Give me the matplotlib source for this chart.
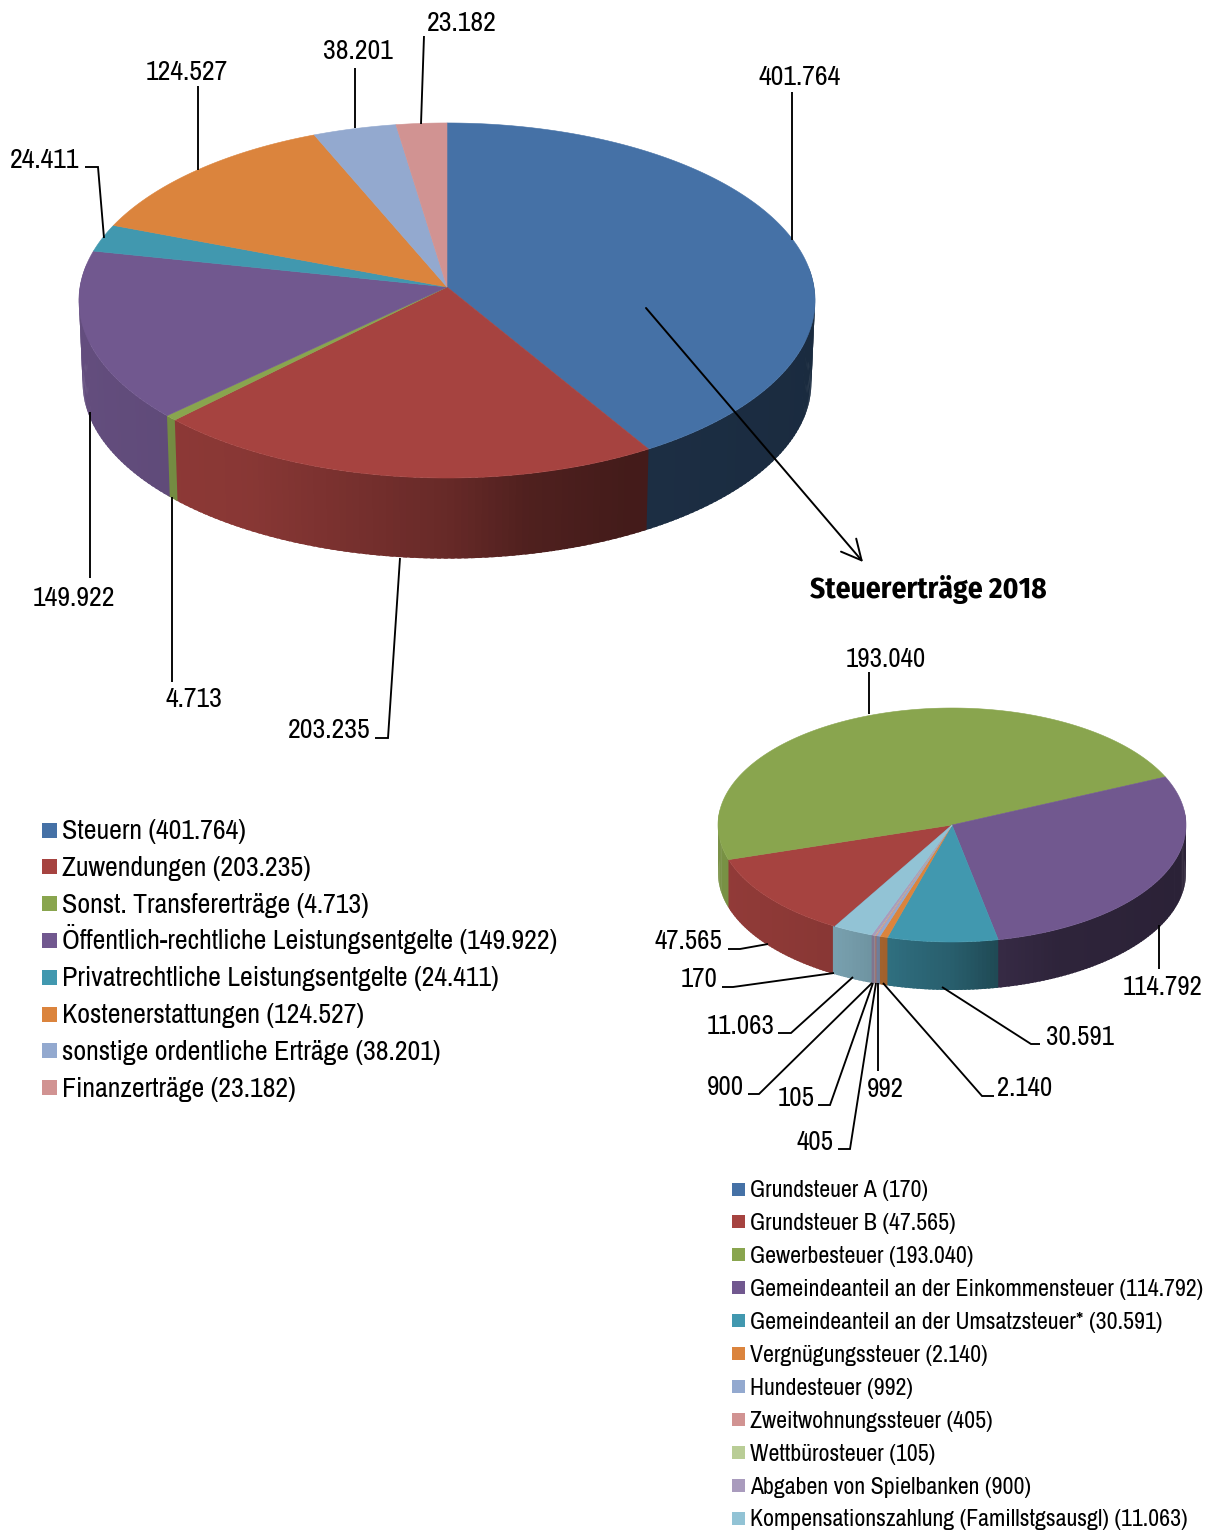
import matplotlib
matplotlib.use('Agg')
import matplotlib.pyplot as plt
from matplotlib.patches import Rectangle
import numpy as np

plt.rcParams['font.family'] = ['Archivo Narrow', 'Liberation Sans', 'DejaVu Sans']

# main chart
names1 = ['Steuern', 'Zuwendungen', 'Sonst. Transfererträge',
          'Öffentlich-rechtliche Leistungsentgelte', 'Privatrechtliche Leistungsentgelte',
          'Kostenerstattungen', 'sonstige ordentliche Erträge', 'Finanzerträge']
values1 = [401764, 203235, 4713, 149922, 24411, 124527, 38201, 23182]
colors1 = ['#4571A6', '#A64340', '#89A54E', '#71588F', '#4198AF', '#DB843D', '#93A9CF', '#D19392']

# Steuererträge
names2 = ['Grundsteuer A', 'Grundsteuer B', 'Gewerbesteuer',
          'Gemeindeanteil an der Einkommensteuer', 'Gemeindeanteil an der Umsatzsteuer*',
          'Vergnügungssteuer', 'Hundesteuer', 'Zweitwohnungssteuer', 'Wettbürosteuer',
          'Abgaben von Spielbanken', 'Kompensationszahlung (Famillstgsausgl)']
values2 = [170, 47565, 193040, 114792, 30591, 2140, 992, 405, 105, 900, 11063]
colors2 = ['#4571A6', '#A64340', '#89A54E', '#71588F', '#4198AF', '#DB843D', '#93A9CF',
           '#D19392', '#B9CD96', '#A99BBD', '#92C3D5']


def fmt(v):
    return f'{v:,}'.replace(',', '.')


def project(t, cx, cy, rx, ry, k):
    u, v = np.sin(t), -np.cos(t)
    w = 1 - k * v
    return cx + rx * u / w, cy + ry * v / w


def shade(col, t):
    # side walls get darker from left to right
    f = np.interp(np.sin(t), [-1, -0.5, -0.25, 0, 0.2, 0.45, 1],
                  [0.88, 0.82, 0.72, 0.62, 0.48, 0.41, 0.38])
    return tuple(np.array(matplotlib.colors.to_rgb(col)) * f)


def pie3d(ax, values, colors, start, cx, cy, rx, ry, k, depth, bottom_scale):
    total = sum(values)
    edges = np.radians(start + np.cumsum([0] + list(values)) / total * 360)
    for i in range(len(values)):
        ts = np.linspace(edges[i], edges[i + 1], max(3, int(np.degrees(edges[i + 1] - edges[i])) + 2))
        step = ts[1] - ts[0]
        for a in ts[:-1]:
            if np.cos(a + step / 2) > 0.12:
                continue
            # strips overlap a little so no seams show
            x0, y0 = project(np.array([a, a + step * 1.6]), cx, cy, rx, ry, k)
            x1 = cx + (x0 - cx) * bottom_scale
            y1 = cy + (y0 - cy) * bottom_scale + depth
            ax.fill([x0[0], x0[1], x1[1], x1[0]], [y0[0], y0[1], y1[1], y1[0]],
                    color=shade(colors[i], a + step / 2), lw=0, zorder=2)
    for i in range(len(values)):
        ts = np.linspace(edges[i], edges[i + 1], max(3, int(np.degrees(edges[i + 1] - edges[i])) * 2 + 2))
        x, y = project(ts, cx, cy, rx, ry, k)
        ax.fill(np.r_[cx, x], np.r_[cy, y], color=colors[i], lw=0.4, zorder=3)


def leader(ax, text, tx, ty, pts, size):
    ax.plot([p[0] for p in pts], [p[1] for p in pts], color='black', lw=1.35, zorder=5,
            solid_capstyle='butt', solid_joinstyle='miter')
    ax.text(tx, ty + 1.5, text, ha='center', va='center', fontsize=size, color='black', zorder=6)


def legend_rows(ax, names, values, colors, x, y0, dy, box, size, drop):
    for i, (n, v, c) in enumerate(zip(names, values, colors)):
        y = y0 + i * dy
        ax.add_patch(Rectangle((x, y - box / 2), box, box, color=c, lw=0))
        # baseline, so the umlaut row does not jump
        ax.text(x + box + 5, y + drop, f'{n} ({fmt(v)})', ha='left', va='baseline',
                fontsize=size, color='black')


fig = plt.figure(figsize=(12.12, 15.32), dpi=100)
ax = fig.add_axes([0, 0, 1, 1])
ax.set_xlim(0, 1212)
ax.set_ylim(1532, 0)
ax.axis('off')

pie3d(ax, values1, colors1, 0, 447, 287, 367, 176.5, 0.076, 82.5, 0.99)
pie3d(ax, values2, colors2, 210, 952, 825, 234, 117, 0.0, 48, 1.0)

labels1 = {0: (800, 76, [(792, 92), (792, 240)]),
           3: (74, 597, [(90, 578), (90, 412)]),
           2: (194, 698, [(172, 682), (172, 497)]),
           1: (329, 729, [(375, 738), (388, 738), (400, 558)]),
           4: (45, 159, [(85, 167), (98, 167), (104, 238)]),
           5: (187, 71, [(198, 86), (198, 170)]),
           6: (358, 50, [(355, 68), (355, 128)]),
           7: (462, 22, [(424, 36), (421, 124)])}
for i, (tx, ty, pts) in labels1.items():
    leader(ax, fmt(values1[i]), tx, ty, pts, 20)

labels2 = {0: (699, 978, [(722, 987), (733, 987), (834, 973)]),
           1: (688, 940, [(728, 949), (740, 949), (768, 944)]),
           2: (886, 658, [(869, 672), (869, 714)]),
           3: (1163, 986, [(1159, 969), (1159, 925)]),
           4: (1080, 1036, [(1040, 1044), (1031, 1044), (942, 987)]),
           5: (1025, 1087, [(994, 1096), (982, 1096), (883, 983)]),
           6: (885, 1088, [(878, 1071), (878, 983)]),
           7: (815, 1141, [(838, 1149), (850, 1149), (876, 983)]),
           8: (796, 1097, [(818, 1105), (830, 1105), (873, 983)]),
           9: (725, 1086, [(748, 1094), (759, 1094), (872, 983)]),
           10: (741, 1025, [(778, 1033), (791, 1033), (853, 977)])}
for i, (tx, ty, pts) in labels2.items():
    leader(ax, fmt(values2[i]), tx, ty, pts, 19.4)

ax.annotate('', xy=(863, 562), xytext=(646, 308),
            arrowprops=dict(arrowstyle='->', color='black', lw=1.4, mutation_scale=36,
                            shrinkA=0, shrinkB=0), zorder=5)
ax.text(928, 589.5, 'Steuererträge 2018', ha='center', va='center', fontsize=21.2,
        fontweight='bold', color='black', family=['Fira Sans Condensed', 'Liberation Sans'])

legend_rows(ax, names1, values1, colors1, 42, 830, 36.8, 15, 20.1, 9)
legend_rows(ax, names2, values2, colors2, 732, 1189, 32.9, 13, 17.2, 8.4)

fig.savefig('out.png', dpi=100)
